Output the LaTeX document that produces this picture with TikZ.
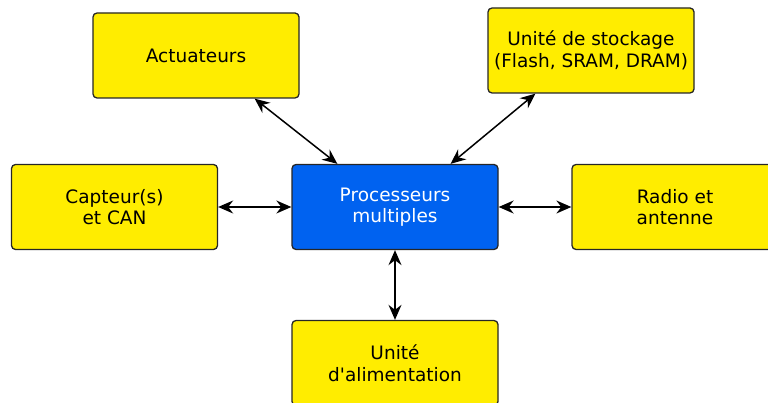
\documentclass[tikz,border=0pt]{standalone}
\usepackage{fontspec}
\setmainfont{DejaVu Sans}
\usetikzlibrary{arrows.meta}
\definecolor{boxyellow}{RGB}{255,237,0}
\definecolor{boxblue}{RGB}{0,98,240}
\begin{document}
\begin{tikzpicture}[x=1pt,y=-1pt,ybox/.style={draw=black!85,line width=1.3pt,rounded corners=4pt,fill=boxyellow,minimum width=206pt,minimum height=85pt,inner sep=0pt,align=center,font=\fontsize{18.5}{21.5}\selectfont},pbox/.style={ybox,fill=boxblue,text=white},link/.style={line width=1.5pt,{Stealth[length=15pt,width=13pt,inset=5pt]}-{Stealth[length=15pt,width=13pt,inset=5pt]}}]
\useasboundingbox (0,0) rectangle (768,403);
\node[pbox] (proc) at (395,207) {Processeurs\\multiples};
\node[ybox] (act) at (196,55.5) {Actuateurs};
\node[ybox] (stock) at (591,50.5) {Unité de stockage\\(Flash, SRAM, DRAM)};
\node[ybox] (capt) at (114.5,207) {Capteur(s)\\et CAN};
\node[ybox] (radio) at (675,207) {Radio et\\antenne};
\node[ybox] (alim) at (395,363) {Unité\\d\textquotesingle alimentation};

\draw[link] ([xshift=-45pt]act.south east) -- ([xshift=46pt]proc.north west);
\draw[link] ([xshift=48pt]stock.south west) -- ([xshift=-48pt]proc.north east);
\draw[link] (capt.east) -- (proc.west);
\draw[link] (proc.east) -- (radio.west);
\draw[link] (proc.south) -- (alim.north);
\end{tikzpicture}
\end{document}
